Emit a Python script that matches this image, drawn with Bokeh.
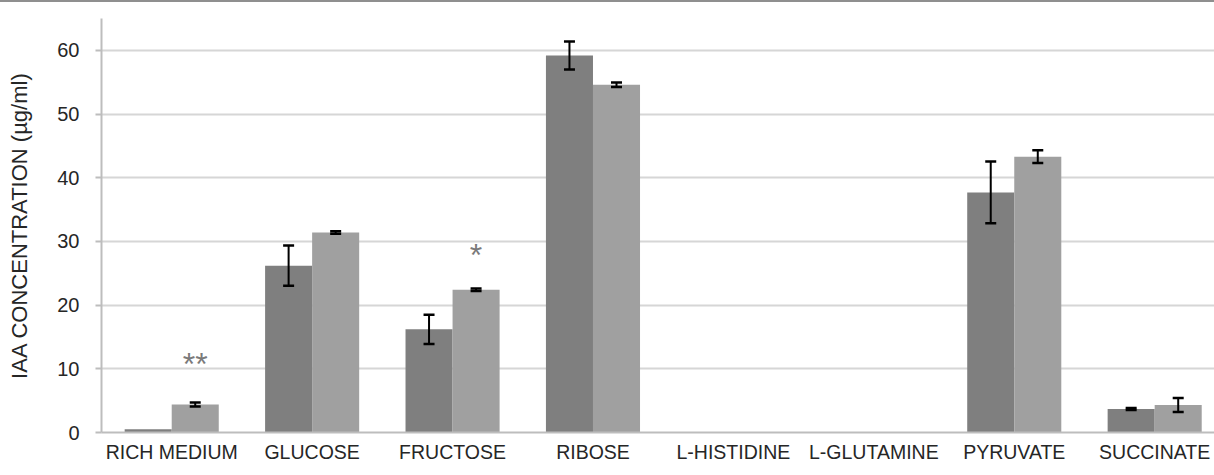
from bokeh.plotting import figure
from bokeh.models import Range1d, FixedTicker, Whisker, ColumnDataSource, Div, TeeHead
from bokeh.layouts import column
from bokeh.core.properties import value
from bokeh.embed import file_html
from bokeh.resources import INLINE

# ---- data ----
categories = ["RICH MEDIUM", "GLUCOSE", "FRUCTOSE", "RIBOSE",
              "L-HISTIDINE", "L-GLUTAMINE", "PYRUVATE", "SUCCINATE"]
dark_vals = [0.5, 26.2, 16.2, 59.2, 0.0, 0.0, 37.7, 3.7]
dark_err = [0.0, 3.15, 2.3, 2.2, 0.0, 0.0, 4.85, 0.15]
light_vals = [4.4, 31.4, 22.4, 54.6, 0.0, 0.0, 43.3, 4.3]
light_err = [0.3, 0.2, 0.2, 0.35, 0.0, 0.0, 1.0, 1.1]
sig_marks = ["**", "", "*", "", "", "", "", ""]
sig_y = [11.2, 0.0, 28.3, 0.0, 0.0, 0.0, 0.0, 0.0]
y_ticks = [0, 10, 20, 30, 40, 50, 60]
y_title = "IAA CONCENTRATION (µg/ml)"

FONT = "Liberation Sans"
DARK = "#7f7f7f"
LIGHT = "#a0a0a0"
TXT = "#262626"
BAR_W = 0.335
n = len(categories)

centers = [i + 0.5 for i in range(n)]
x_dark = [c - BAR_W / 2 for c in centers]
x_light = [c + BAR_W / 2 for c in centers]

p = figure(width=1214, height=473,
           x_range=Range1d(0, 7.926), y_range=Range1d(0, 65),
           output_backend="svg", toolbar_location=None,
           min_border_left=101, min_border_right=0,
           min_border_top=16, min_border_bottom=43)
p.outline_line_color = None
p.background_fill_color = "white"
p.border_fill_color = "white"

p.vbar(x=x_dark, top=dark_vals, width=BAR_W, fill_color=DARK, line_color=None)
p.vbar(x=x_light, top=light_vals, width=BAR_W, fill_color=LIGHT, line_color=None)

# error bars (only where an error was drawn)
ex, eu, el = [], [], []
for xs, vs, es in ((x_dark, dark_vals, dark_err), (x_light, light_vals, light_err)):
    for x, v, e in zip(xs, vs, es):
        if e > 0:
            ex.append(x); eu.append(v + e); el.append(v - e)
esrc = ColumnDataSource(dict(x=ex, upper=eu, lower=el))
w = Whisker(base="x", upper="upper", lower="lower", source=esrc,
            line_color="black", line_width=2,
            upper_head=TeeHead(size=11, line_width=2.5, line_color="black"),
            lower_head=TeeHead(size=11, line_width=2.5, line_color="black"))
w.level = "annotation"
p.add_layout(w)

# significance marks
sx = [x for x, m in zip(x_light, sig_marks) if m]
sy = [y for y, m in zip(sig_y, sig_marks) if m]
st = [m for m in sig_marks if m]
p.text(x=sx, y=sy, text=st, text_font=value(FONT), text_font_size="32px",
       text_color="#7a7a7a", text_align="center", text_baseline="middle",
       y_offset=3)

# axes
p.xgrid.visible = False
p.ygrid.grid_line_color = "#d6d6d6"
p.ygrid.grid_line_width = 2

p.yaxis.ticker = FixedTicker(ticks=y_ticks)
p.yaxis.axis_line_color = "#bdbdbd"
p.yaxis.axis_line_width = 2
p.yaxis.major_tick_line_color = "#bdbdbd"
p.yaxis.major_tick_line_width = 2
p.yaxis.major_tick_out = 6
p.yaxis.major_tick_in = 0
p.yaxis.minor_tick_line_color = None
p.yaxis.major_label_text_font = FONT
p.yaxis.major_label_text_font_size = "20px"
p.yaxis.major_label_text_color = TXT
p.yaxis.major_label_standoff = 16
p.yaxis.axis_label = y_title
p.yaxis.axis_label_text_font = FONT
p.yaxis.axis_label_text_font_size = "22px"
p.yaxis.axis_label_text_font_style = "normal"
p.yaxis.axis_label_text_color = TXT
p.yaxis.axis_label_standoff = 22

p.xaxis.ticker = FixedTicker(ticks=centers)
p.xaxis.major_label_overrides = {c: name for c, name in zip(centers, categories)}
p.xaxis.axis_line_color = "#bdbdbd"
p.xaxis.axis_line_width = 2
p.xaxis.major_tick_line_color = None
p.xaxis.minor_tick_line_color = None
p.xaxis.major_tick_out = 0
p.xaxis.major_label_text_font = FONT
p.xaxis.major_label_text_font_size = "19.5px"
p.xaxis.major_label_text_color = TXT
p.xaxis.major_label_standoff = 8

top_line = Div(text="", width=1214, height=2, margin=0,
               styles={"background-color": "#8f8f8f"})

layout = column(top_line, p, spacing=0)

with open("out.html", "w") as f:
    f.write(file_html(layout, INLINE))
